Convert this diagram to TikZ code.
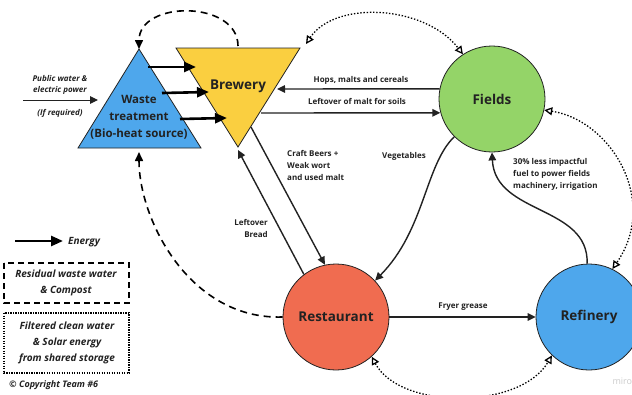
\documentclass[tikz,border=0pt]{standalone}
\usepackage{fontspec}
\setmainfont{Open Sans}
\usepackage{tikz}
\usetikzlibrary{calc,arrows.meta,positioning}
\definecolor{WasteBlue}{RGB}{78, 167, 236}
\definecolor{BrewYellow}{RGB}{250, 207, 64}
\definecolor{FieldGreen}{RGB}{148, 212, 104}
\definecolor{RestoRed}{RGB}{240, 108, 80}
\definecolor{InkDark}{RGB}{34, 34, 34}

\begin{document}
\begin{tikzpicture}[x=1pt, y=-1pt,
    hub/.style={circle, draw=InkDark, line width=0.8pt, minimum size=106pt, inner sep=0pt,
        font=\bfseries\fontsize{13.5}{16}\selectfont, text=InkDark},
    flow/.style={draw=InkDark, line width=1.4pt, -{Triangle[length=8pt,width=7.5pt]}},
    energy/.style={draw=black, line width=2.6pt, -{Triangle[length=12pt,width=10pt]}},
    loopback/.style={draw=black, line width=1.6pt, dash pattern=on 7pt off 5pt,
        -{Triangle[length=9pt,width=8pt]}},
    share/.style={draw=black, line width=1.3pt, dash pattern=on 1.4pt off 1.8pt,
        {Triangle[open,length=8pt,width=8pt]}-{Triangle[open,length=8pt,width=8pt]}},
    lbl/.style={font=\bfseries\fontsize{8}{12}\selectfont, text=InkDark, inner sep=0pt},
    note/.style={font=\bfseries\itshape\fontsize{8}{11.5}\selectfont, text=InkDark, inner sep=0pt, align=center},
    keytext/.style={font=\bfseries\itshape\fontsize{10}{16}\selectfont, text=InkDark, inner sep=0pt, align=center}]
    \clip (0,0) rectangle (632,394);
    \fill[white] (0,0) rectangle (632,394);

    % the two triangles
    \coordinate (wasteTop) at (139,49);
    \coordinate (wasteBase) at (139,152);
    \coordinate (brewTop) at (238,46);
    \coordinate (brewTip) at (238,150);
    \filldraw[fill=WasteBlue, draw=InkDark, line width=0.8pt] (wasteTop) -- (201,148) -- (78,148) -- cycle;
    \filldraw[fill=BrewYellow, draw=InkDark, line width=0.8pt] (176,48) -- (300,48) -- (238,147) -- cycle;
    \node[font=\bfseries\fontsize{11.5}{17}\selectfont, text=InkDark, align=center] (waste) at (139,117)
        {Waste\\treatment\\(Bio-heat source)};
    \node[font=\bfseries\fontsize{13.5}{16}\selectfont, text=InkDark] (brewery) at (238,86) {Brewery};

    % circles
    \node[hub, fill=FieldGreen] (fields) at (492,99) {Fields};
    \node[hub, fill=RestoRed] (restaurant) at (336,317) {Restaurant};
    \node[hub, fill=WasteBlue] (refinery) at (589,317) {Refinery};

    % energy from waste treatment
    \draw[energy] (148,67) -- (196,67);
    \draw[energy] (162,93) -- (209,92);
    \draw[energy] (180,119) -- (227,118);

    % public water
    \coordinate (pubStart) at (23,100);
    \coordinate (pubEnd) at (98,100);
    \draw[flow, line width=1pt] (pubStart) -- (pubEnd);
    \node[note] (pubLbl) at (60,85) {Public water \&\\electric power};
    \node[note] (ifLbl) at (60,113) {(If required)};

    % brewery <-> fields
    \coordinate (hopsEnd) at (277,89);
    \coordinate (maltStart) at (261,113);
    \draw[flow] (fields.169) -- (hopsEnd);
    \draw[flow] (maltStart) -- (fields.195);
    \node[lbl] (hopsLbl) at (361,80) {Hops, malts and cereals};
    \node[lbl] (maltLbl) at (357,101) {Leftover of malt for soils};

    % brewery <-> restaurant
    \coordinate (beerStart) at (251,127);
    \draw[flow] (beerStart) -- (restaurant.102);
    \draw[flow] (restaurant.127) -- (brewTip);
    \node[lbl, align=left, anchor=north west] (beerLbl) at (287,150) {Craft Beers +\\Weak wort\\and used malt};
    \node[lbl, align=right, anchor=north east] (breadLbl) at (268,219) {Leftover\\Bread};

    % fields -> restaurant
    \draw[flow] (fields.225) .. controls (425,165) and (425,230) .. (restaurant.43);
    \node[lbl] (vegLbl) at (404,156) {Vegetables};

    % refinery -> fields
    \draw[flow] (refinery.92) .. controls (589,205) and (495,215) .. (fields.270);
    \node[lbl, align=left, anchor=north west] (fuelLbl) at (513,158)
        {30\% less impactful\\fuel to power fields\\machinery, irrigation};

    % restaurant -> refinery
    \draw[flow] (restaurant.east) -- (refinery.west);
    \node[lbl] (greaseLbl) at (463,307) {Fryer grease};

    % residual loops
    \draw[loopback] (brewTop) .. controls (238,0) and (139,0) .. (wasteTop);
    \draw[loopback] (restaurant.180) .. controls (190,320) and (139,220) .. (wasteBase);

    % shared storage
    \draw[share] (306,44) .. controls (335,0) and (425,5) .. (fields.123);
    \draw[share] (fields.-12) .. controls (610,120) and (660,200) .. (refinery.64);
    \draw[share] (restaurant.-48) .. controls (400,410) and (520,410) .. (refinery.226);

    % legend
    \coordinate (keyStart) at (15,241);
    \coordinate (keyEnd) at (63,241);
    \draw[energy] (keyStart) -- (keyEnd);
    \node[keytext, anchor=west] (keyEnergy) at (68,242) {Energy};
    \draw[line width=1.2pt, dash pattern=on 6pt off 4pt] (4,263) rectangle (129,303);
    \node[keytext] (keyWaste) at (66,283) {Residual waste water\\\& Compost};
    \draw[line width=1.2pt, dash pattern=on 1.2pt off 1.3pt] (4,313) rectangle (129,373);
    \node[keytext] (keySolar) at (67,343) {Filtered clean water\\\& Solar energy\\from shared storage};
    \node[keytext, font=\bfseries\itshape\fontsize{9}{10}\selectfont, anchor=west] (copy) at (9,385)
        {© Copyright Team \#6};
    \node[font=\fontsize{9}{10}\selectfont, text=gray!40, anchor=west] (mark) at (609,381) {miro};
\end{tikzpicture}
\end{document}
